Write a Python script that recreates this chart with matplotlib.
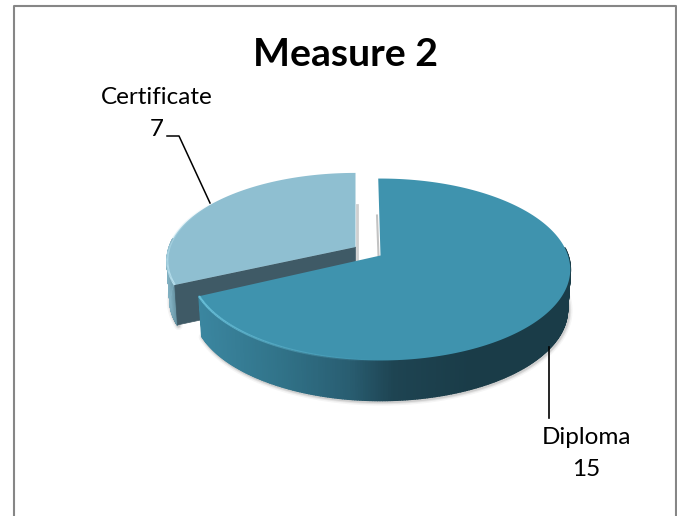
import numpy as np
import matplotlib
matplotlib.use("Agg")
import matplotlib.pyplot as plt
from matplotlib.collections import PolyCollection, LineCollection
from matplotlib.colors import LinearSegmentedColormap, to_rgba

title = "Measure 2"
categories = ["Diploma", "Certificate"]
values = [15, 7]

plt.rcParams['font.family'] = ['Lato', 'DejaVu Sans']
W, H = 677, 516
fig = plt.figure(figsize=(W / 100, H / 100), dpi=100)
ax = fig.add_axes([0, 0, 1, 1])
ax.set_xlim(0, W)
ax.set_ylim(H, 0)
ax.axis("off")

K = 0.154
DEPTH = 40
BOTTOM_SCALE = 0.985
ROTATION = -0.8


def project(theta, cx, cy, rx, ry, scale=1.0, dy=0.0):
    """theta: degrees clockwise from the top of the pie."""
    t = np.radians(theta)
    u, v = np.sin(t), -np.cos(t)
    d = 1 - K * v
    return cx + scale * rx * u / d, cy + dy + ry * v / d


def slice_top(a0, a1, geo):
    th = np.linspace(a0, a1, 200)
    x, y = project(th, *geo)
    return np.r_[geo[0], x], np.r_[geo[1], y]


def wall(a0, a1, geo, cmap, xr, zorder):
    th = np.linspace(a0, a1, 241)
    xt, yt = project(th, *geo)
    xb, yb = project(th, *geo, BOTTOM_SCALE, DEPTH)
    polys, cols = [], []
    for i in range(len(th) - 1):
        polys.append([(xt[i], yt[i]), (xt[i + 1], yt[i + 1]), (xb[i + 1], yb[i + 1]), (xb[i], yb[i])])
        cols.append(cmap(np.clip((xb[i] - xr[0]) / (xr[1] - xr[0]), 0, 1)))
    ax.add_collection(PolyCollection(polys, facecolors=cols, edgecolors=cols, linewidths=1.2, zorder=zorder))


def fade_line(a0, a1, geo, color, lw, zorder):
    th = np.linspace(a0, a1, 80)
    x, y = project(th, *geo)
    segs = [[(x[i], y[i]), (x[i + 1], y[i + 1])] for i in range(len(th) - 1)]
    al = np.linspace(1, 0, len(segs))
    cols = [to_rgba(color, a) for a in al]
    ax.add_collection(LineCollection(segs, colors=cols, linewidths=lw, zorder=zorder))


def soft_shadow(x, y, zorder):
    for lw, a in [(6, 0.06), (4, 0.10), (2.5, 0.15)]:
        ax.plot(x + 1, y + 1, color="#555555", alpha=a, lw=lw, solid_capstyle="round", zorder=zorder)


# chart frame
ax.plot([13.5, 13.5, 676, 676], [H, 5.5, 5.5, H], color="#868686", lw=1.5, zorder=1)

total = sum(values)
sweep = [v / total * 360 for v in values]

diploma_geo = (380.5, 255.5, 187.5, 88.8)
cert_geo = (355.5, 247, 186, 85.5)

d_start = ROTATION
d_end = ROTATION + sweep[0]
c_start = 360 - sweep[1]

d_cmap = LinearSegmentedColormap.from_list("d", [(0, "#3b86a0"), (0.3, "#317389"), (0.55, "#295e72"),
                                                 (0.72, "#1e4452"), (1, "#1a3c48")])
c_cmap = LinearSegmentedColormap.from_list("c", ["#8fc0d2", "#56808f"])

# Certificate slice
xb, yb = project(np.linspace(c_start, c_start + 45, 60), *cert_geo, BOTTOM_SCALE, DEPTH)
soft_shadow(xb, yb, 2)
wall(c_start, c_start + 30, cert_geo, c_cmap, (167, 180), 3)
cx_c, cy_c = project(c_start, *cert_geo)
cx_b, cy_b = project(c_start, *cert_geo, BOTTOM_SCALE, DEPTH)
ax.fill([cert_geo[0], cx_c, cx_b, cert_geo[0]], [cert_geo[1], cy_c, cy_b, cert_geo[1] + DEPTH],
        color="#3f5a66", lw=0.5, zorder=4)
x, y = slice_top(c_start, 360, cert_geo)
ax.fill(x, y, color="#8fbfd1", lw=0, zorder=5)
ax.plot([cert_geo[0] + 1.5] * 2, [cert_geo[1] - 42, cert_geo[1] + 12], color="#777777", alpha=0.35, lw=2, zorder=2)
fade_line(c_start, c_start + 60, cert_geo, "#b9e1ef", 1.6, 6)

# Diploma slice
xb, yb = project(np.linspace(80, d_end, 200), *diploma_geo, BOTTOM_SCALE, DEPTH)
soft_shadow(xb, yb, 6)
wall(85, d_end, diploma_geo, d_cmap, (200, 470), 7)
x, y = slice_top(d_start, d_end, diploma_geo)
ax.fill(x, y, color="#3f93ae", lw=0, zorder=8)
ax.plot([diploma_geo[0] - 3.5, diploma_geo[0] - 2], [diploma_geo[1] - 40, diploma_geo[1]],
        color="#555555", alpha=0.35, lw=1.5, zorder=6)
fade_line(d_end, d_end - 65, diploma_geo, "#6cc3dc", 1.6, 9)

# leader lines
ax.plot([167, 179, 210], [136, 136, 203], color="black", lw=1.1, zorder=10)
ax.plot([549, 549], [347, 418], color="black", lw=1.2, zorder=10)

# text
fs = 17.5
ax.text(156.5, 97.5, categories[1], ha="center", va="center", fontsize=fs, color="black", zorder=11)
ax.text(157, 130, str(values[1]), ha="center", va="center", fontsize=fs, color="black", zorder=11)
ax.text(586, 438, categories[0], ha="center", va="center", fontsize=fs, color="black", zorder=11)
ax.text(586, 470, str(values[0]), ha="center", va="center", fontsize=fs, color="black", zorder=11)
ax.text(345.5, 55, title, ha="center", va="center", fontsize=28.3, fontweight="bold", color="black", zorder=11)

fig.savefig("out.png", dpi=100)
